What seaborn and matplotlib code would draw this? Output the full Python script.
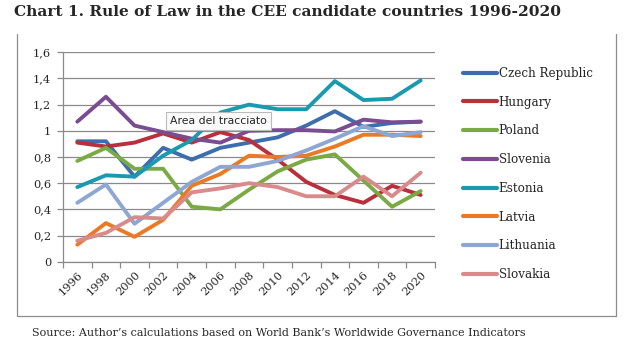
import matplotlib
matplotlib.use("Agg")
import matplotlib.pyplot as plt
import seaborn as sns
import pandas as pd
from matplotlib.lines import Line2D

years = [1996, 1998, 2000, 2002, 2004, 2006, 2008, 2010, 2012, 2014, 2016, 2018, 2020]
countries = ["Czech Republic", "Hungary", "Poland", "Slovenia", "Estonia", "Latvia", "Lithuania", "Slovakia"]

czech     = [0.92, 0.92, 0.65, 0.87, 0.78, 0.87, 0.91, 0.95, 1.04, 1.15, 1.03, 1.06, 1.07]
hungary   = [0.91, 0.88, 0.91, 0.98, 0.91, 0.99, 0.93, 0.78, 0.61, 0.51, 0.45, 0.58, 0.51]
poland    = [0.77, 0.87, 0.71, 0.71, 0.42, 0.40, 0.55, 0.69, 0.78, 0.82, 0.62, 0.42, 0.54]
slovenia  = [1.07, 1.26, 1.04, 0.99, 0.94, 0.91, 1.00, 1.005, 1.005, 0.995, 1.085, 1.065, 1.07]
estonia   = [0.57, 0.66, 0.65, 0.81, 0.93, 1.14, 1.20, 1.165, 1.165, 1.38, 1.235, 1.245, 1.385]
latvia    = [0.13, 0.295, 0.19, 0.32, 0.58, 0.67, 0.81, 0.80, 0.81, 0.88, 0.97, 0.97, 0.96]
lithuania = [0.45, 0.59, 0.29, 0.45, 0.61, 0.725, 0.725, 0.77, 0.85, 0.94, 1.035, 0.96, 0.99]
slovakia  = [0.16, 0.22, 0.34, 0.33, 0.53, 0.56, 0.60, 0.57, 0.50, 0.50, 0.65, 0.50, 0.68]

series = [czech, hungary, poland, slovenia, estonia, latvia, lithuania, slovakia]
colors = ["#3D6DAD", "#B8303B", "#7BAA45", "#7B4C90", "#1A9AAF", "#EB7A25", "#8EA6D2", "#D98A8B"]

yticks = [0, 0.2, 0.4, 0.6, 0.8, 1.0, 1.2, 1.4, 1.6]
ytick_labels = ["0", "0,2", "0,4", "0,6", "0,8", "1", "1,2", "1,4", "1,6"]
xtick_labels = [str(y) for y in years]

rows = []
for c, vals in zip(countries, series):
    for yr, v in zip(years, vals):
        rows.append({"Year": yr, "Value": v, "Country": c})
df = pd.DataFrame(rows)

sns.set_theme(style="white")
plt.rcParams['font.family'] = ['DejaVu Serif']

W, H = 630, 351
fig = plt.figure(figsize=(W / 100, H / 100), dpi=100)
ax = fig.add_axes([63 / W, 1 - 261.7 / H, (435 - 63) / W, (261.7 - 52.3) / H])

sns.lineplot(data=df, x="Year", y="Value", hue="Country", hue_order=countries,
             palette=colors, linewidth=2.8, ax=ax, legend=True)

grid_c = "#8A8A8A"
ax.set_xlim(1995, 2021)
ax.set_ylim(0, 1.6)
ax.set_yticks(yticks)
ax.set_yticklabels(ytick_labels, fontsize=8.2)
ax.set_xticks(years)
ax.set_xticklabels(xtick_labels, rotation=45, ha="right", rotation_mode="anchor", fontsize=8.2)
ax.set_xticks([1995 + 2 * i for i in range(14)], minor=True)
ax.tick_params(axis="x", which="major", length=0, pad=6)
ax.tick_params(axis="x", which="minor", length=4, color=grid_c, width=0.9, direction="out", bottom=True)
ax.tick_params(axis="y", length=4.5, color=grid_c, width=0.9, direction="out", left=True, pad=4)
ax.yaxis.grid(True, color=grid_c, linewidth=0.9)
ax.set_axisbelow(True)
for s in ["top", "right"]:
    ax.spines[s].set_visible(False)
for s in ["left", "bottom"]:
    ax.spines[s].set_color(grid_c)
    ax.spines[s].set_linewidth(0.9)
ax.set_xlabel("")
ax.set_ylabel("")

handles, labels = ax.get_legend_handles_labels()
for h in handles:
    h.set_linewidth(3)
ax.legend(handles, labels, loc="upper left", bbox_to_anchor=(458 / W, 1 - 62 / H),
          bbox_transform=fig.transFigure, frameon=False, fontsize=8.6,
          handlelength=2.9, handletextpad=0.1, labelspacing=1.32, borderaxespad=0)

# outer chart frame
fc = "#8C8C8C"
fig.add_artist(Line2D([17 / W, 17 / W], [1 - 34 / H, 1 - 316 / H], transform=fig.transFigure, color=fc, lw=0.9))
fig.add_artist(Line2D([616 / W, 616 / W], [1 - 34 / H, 1 - 316 / H], transform=fig.transFigure, color=fc, lw=0.9))
fig.add_artist(Line2D([17 / W, 616 / W], [1 - 316 / H, 1 - 316 / H], transform=fig.transFigure, color=fc, lw=0.9))

fig.text(14 / W, 1 - 12 / H, "Chart 1. Rule of Law in the CEE candidate countries 1996-2020",
         fontsize=11.1, fontweight="bold", ha="left", va="center")
fig.text(32 / W, 1 - 333 / H,
         "Source: Author\u2019s calculations based on World Bank\u2019s Worldwide Governance Indicators",
         fontsize=8.0, ha="left", va="center")

# tooltip
fig.text(170 / W, 1 - 121 / H, "Area del tracciato", fontsize=7.8, family="DejaVu Sans",
         ha="left", va="center",
         bbox=dict(boxstyle="square,pad=0.35", facecolor="#FAFAFA", edgecolor="#BBBBBB", linewidth=0.8))

fig.savefig("out.png", dpi=100)
